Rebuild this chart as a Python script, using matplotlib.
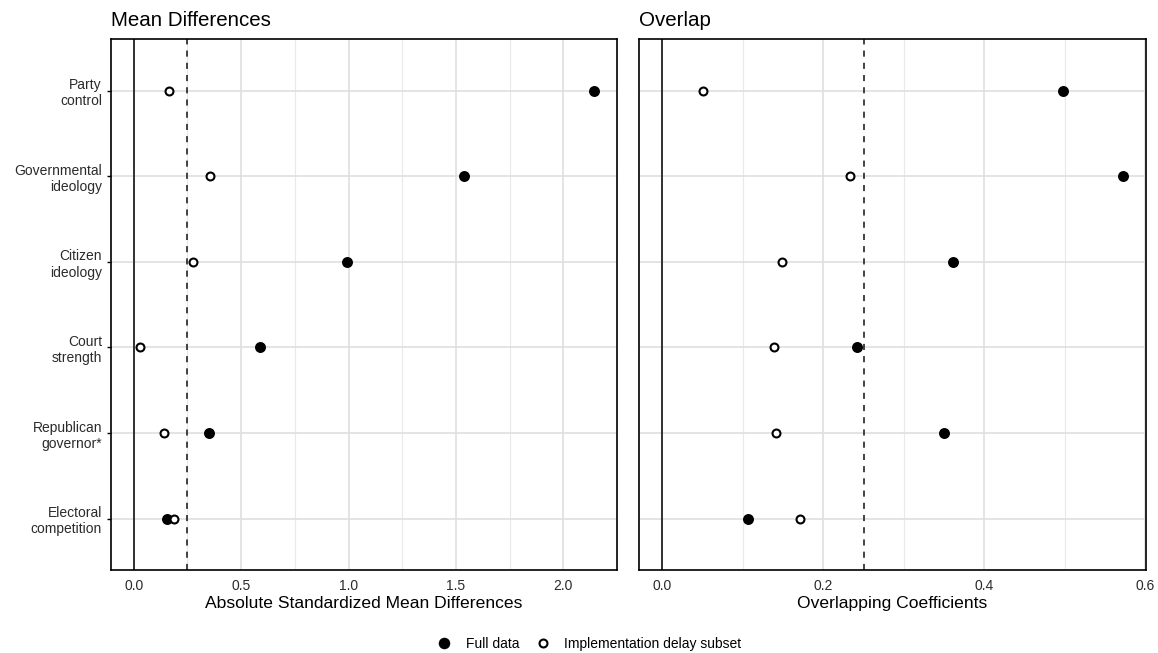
import numpy as np
import matplotlib.pyplot as plt
from matplotlib.lines import Line2D
from matplotlib.ticker import FormatStrFormatter

plt.rcParams['font.family'] = ['Liberation Sans', 'DejaVu Sans']

covariates = ['Party\ncontrol', 'Governmental\nideology', 'Citizen\nideology',
              'Court\nstrength', 'Republican\ngovernor*', 'Electoral\ncompetition']

# absolute standardized mean differences
smd_full = [2.144, 1.538, 0.995, 0.590, 0.349, 0.153]
smd_subset = [0.164, 0.357, 0.275, 0.029, 0.141, 0.187]

# overlapping coefficients
ovl_full = [0.498, 0.572, 0.361, 0.242, 0.350, 0.106]
ovl_subset = [0.051, 0.233, 0.149, 0.139, 0.141, 0.171]

threshold = 0.25

# first covariate on top
ypos = np.arange(len(covariates))[::-1] + 1

fig = plt.figure(figsize=(11.58, 6.53), dpi=100)
ax1 = fig.add_axes([0.0956, 0.1271, 0.4375, 0.8127])
ax2 = fig.add_axes([0.5521, 0.1271, 0.4373, 0.8127])

panels = [
    (ax1, smd_full, smd_subset, 'Mean Differences',
     'Absolute Standardized Mean Differences', 0.5),
    (ax2, ovl_full, ovl_subset, 'Overlap', 'Overlapping Coefficients', 0.2),
]

for ax, full, sub, title, xlabel, step in panels:
    hi = max(full + sub)
    pad = 0.05 * hi
    ax.set_xlim(-pad, hi + pad)
    ax.set_ylim(0.4, len(covariates) + 0.6)

    major = np.arange(0, hi + pad + 1e-9, step)
    ax.set_xticks(major)
    ax.set_xticks(np.arange(step / 2, hi + pad, step), minor=True)
    ax.xaxis.set_major_formatter(FormatStrFormatter('%.1f'))
    ax.set_yticks(ypos)
    ax.set_yticklabels(covariates)

    ax.set_axisbelow(True)
    ax.grid(which='major', color='#dfdfdf', lw=1.2)
    ax.grid(which='minor', axis='x', color='#e9e9e9', lw=0.8)

    ax.axvline(0, color='black', lw=1.1, zorder=2)
    ax.axvline(threshold, color='#111111', lw=1.1, ls=(0, (4, 4)), zorder=2)

    ax.plot(full, ypos, 'o', ls='none', color='black', ms=7.9, mew=0, zorder=3)
    ax.plot(sub, ypos, 'o', ls='none', mfc='white', mec='black', ms=5.7,
            mew=1.5, zorder=4)

    for s in ax.spines.values():
        s.set_linewidth(1.2)
        s.set_color('black')

    ax.tick_params(axis='x', which='both', length=0, pad=6.5, labelsize=10,
                   labelcolor='#2b2b2b')
    ax.tick_params(axis='y', length=2.7, width=1, pad=3.6, labelsize=10,
                   labelcolor='#2b2b2b')

    ax.set_title(title, loc='left', fontsize=14.8, pad=9.5)
    ax.set_xlabel(xlabel, fontsize=12.6)
    ax.xaxis.set_label_coords(0.5, -0.049)

ax2.tick_params(axis='y', left=False, labelleft=False)

handles = [
    Line2D([], [], marker='o', ls='none', color='black', ms=8.3, mew=0,
           label='Full data'),
    Line2D([], [], marker='o', ls='none', mfc='white', mec='black', ms=5.7,
           mew=1.5, label='Implementation delay subset'),
]
fig.legend(handles=handles, loc='center', bbox_to_anchor=(590.2 / 1158, 9 / 653),
           ncol=2, frameon=False, fontsize=10, handlelength=0.8,
           handletextpad=1.15, columnspacing=1.3, borderpad=0, borderaxespad=0)

fig.savefig('out.png', dpi=100)
